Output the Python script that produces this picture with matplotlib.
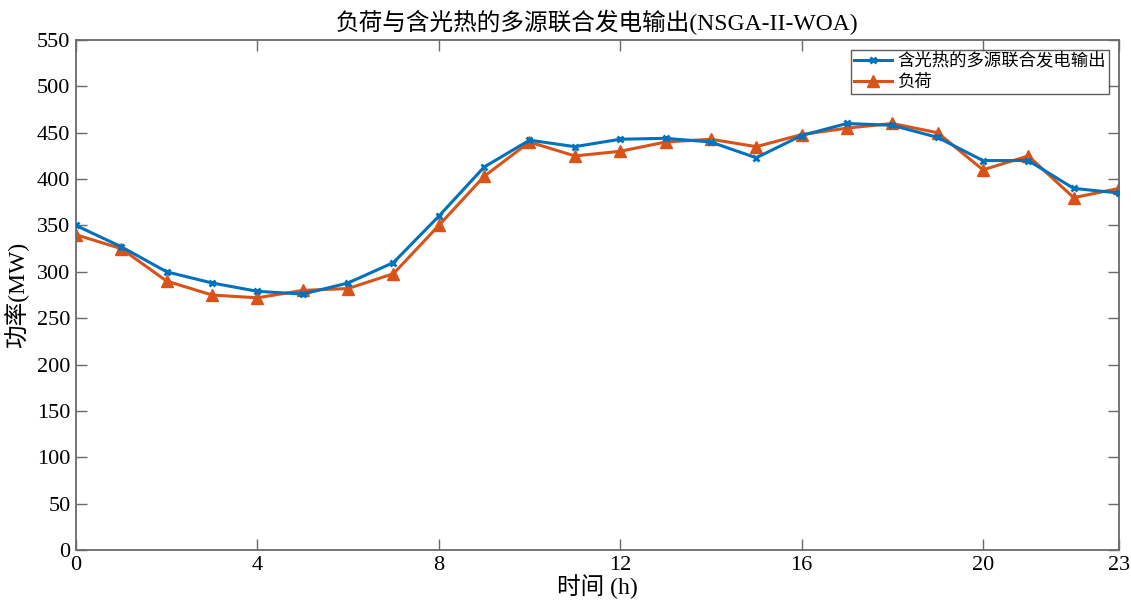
import matplotlib
matplotlib.use("Agg")
import matplotlib.pyplot as plt

plt.rcParams['font.family'] = ['Liberation Serif', 'Noto Sans CJK SC']

hours = list(range(24))
generation = [350, 327, 300, 288, 279, 276, 288, 310, 360, 413, 442, 435,
              443, 444, 440, 423, 447, 460, 458, 445, 420, 420, 390, 385]
load = [340, 325, 290, 275, 272, 280, 282, 298, 350, 403, 440, 425,
        430, 440, 443, 435, 448, 455, 460, 450, 410, 425, 380, 390]
xticks = [0, 4, 8, 12, 16, 20, 23]
yticks = list(range(0, 551, 50))

title = "负荷与含光热的多源联合发电输出(NSGA-II-WOA)"
gen_label = "含光热的多源联合发电输出"
load_label = "负荷"

fig = plt.figure(figsize=(11.31, 6.11), dpi=100)
ax = fig.add_axes([0.0672, 0.0998, 0.9222, 0.8347])

blue = "#0072BD"
orange = "#D95319"
ax.plot(hours, generation, color=blue, lw=2.2, marker='x', ms=5, mew=2.0,
        label=gen_label, zorder=3)
ax.plot(hours, load, color=orange, lw=2.2, marker='^', ms=8, mew=1.0,
        label=load_label, zorder=2)

ax.set_xlim(0, 23)
ax.set_ylim(0, 550)
ax.set_xticks(xticks)
ax.set_yticks(yticks)

axis_col = "#6a6a6a"
for s in ax.spines.values():
    s.set_color(axis_col)
    s.set_linewidth(1.3)
ax.tick_params(direction='in', length=8, width=1.0, color=axis_col,
               top=True, right=True, labelsize=16, labelcolor='black', pad=4)

ax.set_title(title, fontsize=17, fontweight='medium', pad=7)
ax.set_xlabel("时间 (h)", fontsize=17, fontweight='medium', labelpad=0)
ax.set_ylabel("功率(MW)", fontsize=17, fontweight='medium', labelpad=6)

leg = ax.legend(loc='upper right', fontsize=12.5, frameon=True, fancybox=False,
                borderpad=0.15, handlelength=2.2, handletextpad=0.3,
                labelspacing=0.3, borderaxespad=0.6)
leg.get_frame().set_edgecolor('#333333')
leg.get_frame().set_linewidth(1.0)

fig.savefig("out.png", dpi=100)
